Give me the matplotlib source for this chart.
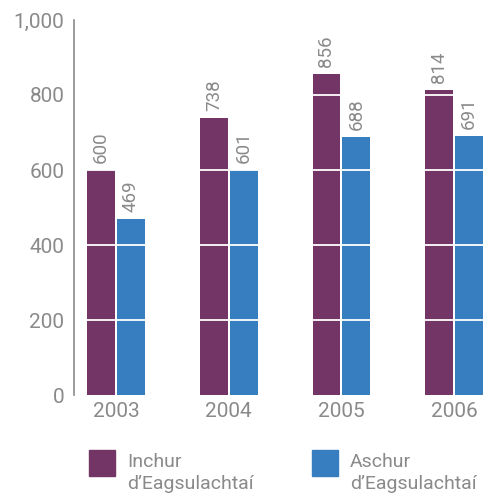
import matplotlib.pyplot as plt
from matplotlib.patches import Rectangle
import numpy as np

years = ["2003", "2004", "2005", "2006"]
inchur = [600, 738, 856, 814]
aschur = [469, 601, 688, 691]
series_names = ["Inchur\nd\u2019Eagsulachta\u00ed", "Aschur\nd\u2019Eagsulachta\u00ed"]
colors = ["#733565", "#377ec1"]
grey = "#8a8a8a"

plt.rcParams['font.family'] = ['Roboto', 'DejaVu Sans']

fig = plt.figure(figsize=(4.88, 4.98), dpi=100)
ax = fig.add_axes([74 / 488, 103 / 498, 414 / 488, 375 / 498])

x = np.arange(len(years))
w = 0.248
off = 0.133
for vals, c, d in [(inchur, colors[0], -off), (aschur, colors[1], off)]:
    ax.bar(x + d, vals, width=w, color=c, zorder=1)
    for xi, v in zip(x + d, vals):
        ax.annotate(str(v), (xi, v), xytext=(0, 5), textcoords="offset points",
                    rotation=90, ha="center", va="bottom", color=grey, fontsize=13.5)

for yv in [200, 400, 600, 800]:
    ax.axhline(yv, color="white", lw=1.3, zorder=2)

ax.set_ylim(0, 1000)
ax.set_xlim(-0.373, 3.30)
ax.set_yticks([0, 200, 400, 600, 800, 1000])
ax.set_yticklabels(["0", "200", "400", "600", "800", "1,000"])
ax.set_xticks(x)
ax.set_xticklabels(years)
ax.tick_params(axis="both", length=0, labelsize=15, colors=grey)
ax.tick_params(axis="y", pad=7)
ax.tick_params(axis="x", pad=5)
for s in ["top", "right", "bottom"]:
    ax.spines[s].set_visible(False)
ax.spines["left"].set_color(grey)
ax.spines["left"].set_linewidth(1.2)

# legend
for i, (name, c) in enumerate(zip(series_names, colors)):
    x0 = [89, 312][i]
    fig.add_artist(Rectangle((x0 / 488, 1 - 476 / 498), 26 / 488, 26 / 498,
                             transform=fig.transFigure, color=c))
    fig.text((x0 + 38) / 488, 1 - 453 / 498, name, color=grey, fontsize=14,
             va="top", ha="left", linespacing=1.3)

fig.savefig("out.png", dpi=100)
